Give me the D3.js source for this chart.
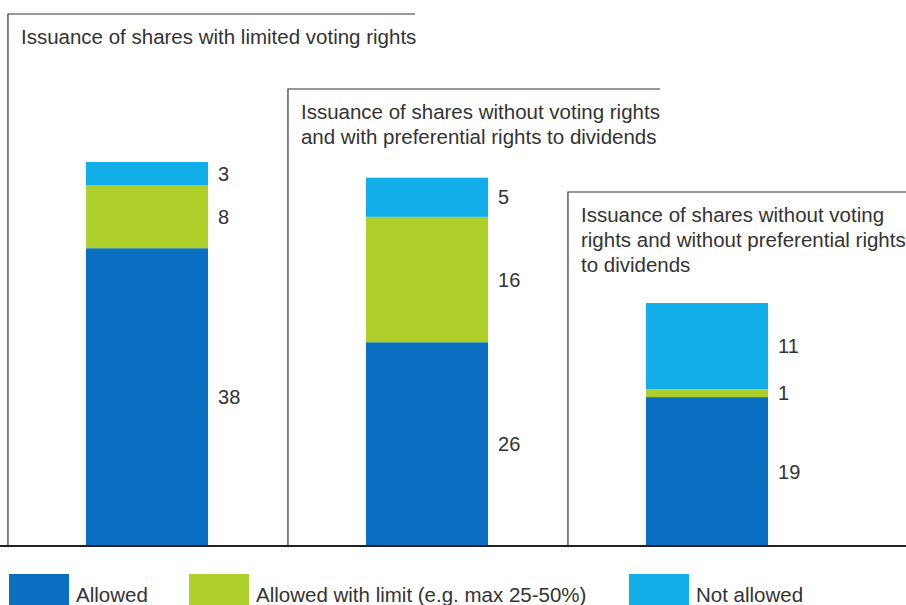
<!DOCTYPE html>
<html>
<head>
<meta charset="utf-8">
<script src="https://cdn.jsdelivr.net/npm/d3@7"></script>
<style>
  body { margin: 0; background: #fff; }
  svg text { font-family: "Liberation Sans", Arial, sans-serif; fill: #333; }
</style>
</head>
<body>
<div id="chart"></div>
<script>
// chart data
var categories = [
  ["Issuance of shares with limited voting rights"],
  ["Issuance of shares without voting rights", "and with preferential rights to dividends"],
  ["Issuance of shares without voting", "rights and without preferential rights", "to dividends"]
];
var allowed = [38, 26, 19];
var allowedLimit = [8, 16, 1];
var notAllowed = [3, 5, 11];
var seriesNames = ["Allowed", "Allowed with limit (e.g. max 25-50%)", "Not allowed"];
var colors = ["#0a6fc0", "#afd02a", "#12aeea"];

var svgWidth = 906;
var svgHeight = 605;
var baseY = 546;

// panel frame layout (top edge and right end of the top rule)
var panelTop = [14, 89, 192];
var panelRight = [415, 660, 906];

var svg = d3.select("#chart").append("svg")
  .attr("width", svgWidth)
  .attr("height", svgHeight);

var rows = categories.map(function(c, i) {
  return {idx: i, allowed: allowed[i], limit: allowedLimit[i], not: notAllowed[i]};
});
var keys = ["allowed", "limit", "not"];
var stacked = d3.stack().keys(keys)(rows);

var x = d3.scaleBand()
  .domain(d3.range(categories.length))
  .range([7, 847])
  .paddingInner(0.564)
  .paddingOuter(0.282);

var total = d3.max(rows, function(d) { return d.allowed + d.limit + d.not; });
var y = d3.scaleLinear().domain([0, total]).range([baseY, 162]);

// panel frames
var frames = svg.append("g");
categories.forEach(function(lines, i) {
  var left = x(i) - 78;
  frames.append("path")
    .attr("d", "M" + left + "," + baseY + "V" + panelTop[i] + "H" + panelRight[i])
    .attr("fill", "none")
    .attr("stroke", "#333")
    .attr("stroke-width", 1.2);
  var t = frames.append("text")
    .attr("x", left + 13)
    .attr("y", panelTop[i] + 30)
    .style("font-size", "20.5px");
  lines.forEach(function(line, j) {
    t.append("tspan")
      .attr("x", left + 13)
      .attr("dy", j === 0 ? 0 : 25)
      .text(line);
  });
});

// stacked bars
var layers = svg.append("g").selectAll("g")
  .data(stacked)
  .enter().append("g")
  .attr("fill", function(d, i) { return colors[i]; });

layers.selectAll("rect")
  .data(function(d) { return d; })
  .enter().append("rect")
  .attr("x", function(d) { return x(d.data.idx); })
  .attr("width", x.bandwidth())
  .attr("y", function(d) { return y(d[1]); })
  .attr("height", function(d) { return y(d[0]) - y(d[1]); });

layers.selectAll("text")
  .data(function(d) { return d; })
  .enter().append("text")
  .attr("x", function(d) { return x(d.data.idx) + x.bandwidth() + 10; })
  .attr("y", function(d) { return (y(d[0]) + y(d[1])) / 2 + 7; })
  .style("font-size", "20px")
  .style("fill", "#333")
  .text(function(d) { return d[1] - d[0]; });

// baseline
svg.append("line")
  .attr("x1", 0).attr("x2", svgWidth)
  .attr("y1", baseY).attr("y2", baseY)
  .attr("stroke", "#222")
  .attr("stroke-width", 2);

// legend
var legendX = [9, 189, 629];
var legend = svg.append("g").selectAll("g")
  .data(seriesNames)
  .enter().append("g")
  .attr("transform", function(d, i) { return "translate(" + legendX[i] + ",574)"; });
legend.append("rect")
  .attr("width", 60).attr("height", 40)
  .attr("fill", function(d, i) { return colors[i]; });
legend.append("text")
  .attr("x", 67).attr("y", 28)
  .style("font-size", "20.5px")
  .text(function(d) { return d; });
</script>
</body>
</html>
